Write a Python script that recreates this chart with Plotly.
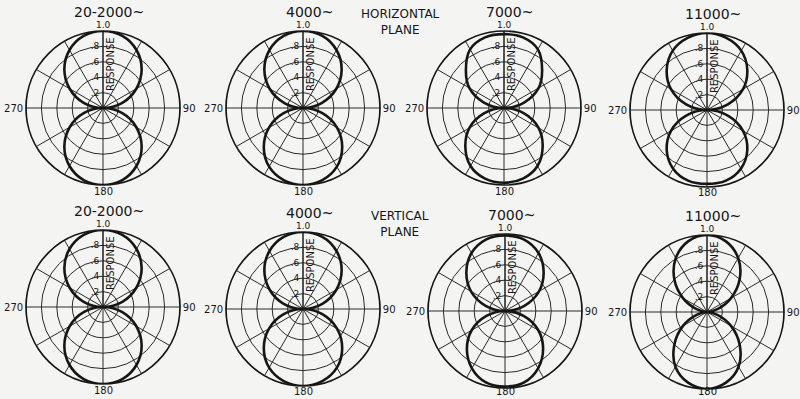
import plotly.graph_objects as go

# Angles (deg, clockwise from the 0 direction) for each lobe
theta_front = [270, 285, 300, 315, 330, 345, 360, 375, 390, 405, 420, 435, 450]
theta_back = [90, 105, 120, 135, 150, 165, 180, 195, 210, 225, 240, 255, 270]

# Relative response, horizontal plane
h_2000_front = [0, .26, .50, .71, .87, .97, 1.0, .97, .87, .71, .50, .26, 0]
h_2000_back = [0, .26, .50, .71, .87, .97, 1.0, .97, .87, .71, .50, .26, 0]
h_4000_front = [0, .25, .50, .71, .87, .97, 1.0, .97, .87, .71, .50, .25, 0]
h_4000_back = [0, .26, .51, .72, .88, .97, 1.0, .97, .88, .72, .51, .26, 0]
h_7000_front = [0, .27, .52, .70, .88, .95, .96, .95, .88, .70, .52, .27, 0]
h_7000_back = [0, .27, .52, .71, .87, .95, .97, .95, .87, .71, .52, .27, 0]
h_11000_front = [0, .28, .54, .74, .89, .97, 1.0, .97, .89, .74, .54, .28, 0]
h_11000_back = [0, .28, .54, .74, .88, .95, .96, .95, .88, .74, .54, .28, 0]

# Relative response, vertical plane
v_2000_front = [0, .26, .50, .71, .87, .97, 1.0, .97, .87, .71, .50, .26, 0]
v_2000_back = [0, .26, .50, .71, .87, .97, 1.0, .97, .87, .71, .50, .26, 0]
v_4000_front = [0, .26, .50, .71, .87, .97, 1.0, .97, .87, .71, .50, .26, 0]
v_4000_back = [0, .26, .51, .72, .88, .97, 1.0, .97, .88, .72, .51, .26, 0]
v_7000_front = [0, .26, .51, .71, .87, .96, .98, .96, .87, .71, .51, .26, 0]
v_7000_back = [0, .25, .50, .70, .86, .96, .98, .96, .86, .70, .50, .25, 0]
v_11000_front = [0, .14, .36, .60, .81, .95, 1.0, .95, .81, .60, .36, .14, 0]
v_11000_back = [0, .14, .36, .60, .82, .95, 1.0, .95, .82, .60, .36, .14, 0]

freq_labels = ["20-2000~", "4000~", "7000~", "11000~"]
radial_ticks = [0.2, 0.4, 0.6, 0.8, 1.0]
radial_ticktext = [".2", ".4", ".6", ".8", ""]
angle_ticks = list(range(0, 360, 30))
angle_ticktext = ["" if a not in (90, 270) else str(a) for a in angle_ticks]

panels = [
    (h_2000_front, h_2000_back), (h_4000_front, h_4000_back),
    (h_7000_front, h_7000_back), (h_11000_front, h_11000_back),
    (v_2000_front, v_2000_back), (v_4000_front, v_4000_back),
    (v_7000_front, v_7000_back), (v_11000_front, v_11000_back),
]

W, H = 800, 399
centers = [(103, 108), (303, 108), (504, 108), (707, 110),
           (103, 307), (303, 309), (505, 311), (707, 312)]
R = 77

BG = "#f4f4f2"
INK = "#161616"
FONT = "DejaVu Sans"


def px(x, y):
    """Pixel position to paper coordinates."""
    return x / W, 1 - y / H


fig = go.Figure()
layout = {}
annotations = []

for i, ((front, back), (cx, cy)) in enumerate(zip(panels, centers)):
    sub = "polar" if i == 0 else f"polar{i + 1}"
    for r_vals, th_vals in ((front, theta_front), (back, theta_back)):
        fig.add_trace(go.Scatterpolar(
            r=r_vals, theta=th_vals, mode="lines", subplot=sub,
            line=dict(color=INK, width=2.6, shape="spline", smoothing=1.0),
            showlegend=False, hoverinfo="skip",
        ))
    layout[sub] = dict(
        domain=dict(x=[(cx - R) / W, (cx + R) / W],
                    y=[1 - (cy + R) / H, 1 - (cy - R) / H]),
        bgcolor="rgba(0,0,0,0)",
        radialaxis=dict(
            range=[0, 1], tickvals=radial_ticks, ticktext=radial_ticktext,
            angle=90, tickangle=90, side="counterclockwise", ticks="",
            showline=True, linecolor=INK, linewidth=1,
            gridcolor="#2a2a2a", gridwidth=1,
            tickfont=dict(family=FONT, size=9, color=INK),
        ),
        angularaxis=dict(
            rotation=90, direction="clockwise",
            tickvals=angle_ticks, ticktext=angle_ticktext, ticks="", ticklen=0,
            showline=True, linecolor=INK, linewidth=1.7,
            gridcolor="#2a2a2a", gridwidth=1,
            tickfont=dict(family=FONT, size=10, color=INK),
        ),
    )
    # full-scale value just above the rim
    x, y = px(cx, cy - R - 6)
    annotations.append(dict(
        x=x, y=y, xanchor="center", yanchor="middle",
        text="1.0", showarrow=False,
        font=dict(family=FONT, size=9, color=INK),
    ))
    # axis title along the 0-degree spoke
    x, y = px(cx + 7, cy - 0.57 * R)
    annotations.append(dict(
        x=x, y=y, xanchor="center", yanchor="middle",
        text="RESPONSE", textangle=-90, showarrow=False,
        font=dict(family=FONT, size=10, color=INK),
    ))
    # 180-degree label just below the rim
    x, y = px(cx, min(cy + R + 6, 391))
    annotations.append(dict(
        x=x, y=y, xanchor="center", yanchor="middle",
        text="180", showarrow=False,
        font=dict(family=FONT, size=10, color=INK),
    ))
    # frequency heading above each diagram
    x, y = px(cx + 6, cy - R - 19)
    annotations.append(dict(
        x=x, y=y, xanchor="center", yanchor="middle",
        text=freq_labels[i % 4], showarrow=False,
        font=dict(family=FONT, size=14, color=INK),
    ))

for txt, ty in (("HORIZONTAL<br>PLANE", 22), ("VERTICAL<br>PLANE", 224)):
    x, y = px(400, ty)
    annotations.append(dict(
        x=x, y=y, xanchor="center", yanchor="middle",
        text=txt, showarrow=False, align="center",
        font=dict(family=FONT, size=12, color=INK),
    ))

for a in annotations:
    a.update(xref="paper", yref="paper")

fig.update_layout(
    width=W, height=H, margin=dict(l=0, r=0, t=0, b=0),
    paper_bgcolor=BG, plot_bgcolor=BG,
    annotations=annotations, **layout,
)

fig.write_html("out.html")
